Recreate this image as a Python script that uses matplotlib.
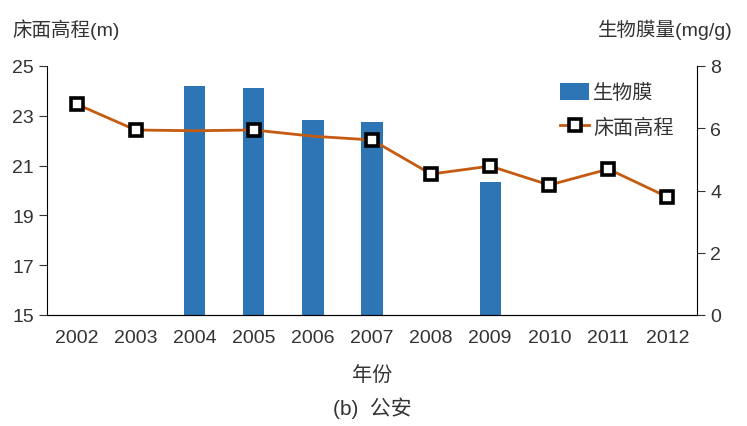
import matplotlib
matplotlib.use("Agg")
import matplotlib.pyplot as plt
from matplotlib import font_manager
import numpy as np

years = ['2002', '2003', '2004', '2005', '2006', '2007', '2008', '2009', '2010', '2011', '2012']
biofilm = [0, 0, 7.36, 7.30, 6.27, 6.20, 0, 4.28, 0, 0, 0]
bed_elev = [23.47, 22.43, 22.40, 22.43, 22.18, 22.03, 20.66, 20.98, 20.22, 20.86, 19.74]
marker_idx = [0, 1, 3, 5, 6, 7, 8, 9, 10]

installed = {f.name for f in font_manager.fontManager.ttflist}
fams = [f for f in ['Liberation Sans Narrow', 'DejaVu Sans Condensed', 'Liberation Sans'] if f in installed]
plt.rcParams['font.family'] = fams + ['Noto Sans CJK SC', 'DejaVu Sans']

fig = plt.figure(figsize=(7.47, 4.27), dpi=100)
ax = fig.add_axes([47/747, 1-316/427, 650/747, 249/427])
ax2 = ax.twinx()

x = np.arange(len(years))
ax2.bar(x, biofilm, width=0.36, color='#2E75B6', label='生物膜', zorder=1)
ax2.set_ylim(0, 8)
ax2.set_yticks([0, 2, 4, 6, 8])

ax.set_zorder(ax2.get_zorder() + 1)
ax.patch.set_visible(False)
ax.plot(x, bed_elev, color='#C55A11', lw=2, marker='s', markevery=marker_idx,
        ms=9, mfc='white', mec='black', mew=2.6, label='床面高程')
ax.set_ylim(15, 25)
ax.set_yticks([15, 17, 19, 21, 23, 25])
ax.set_xlim(-0.5, 10.5)
ax.set_xticks(x)
ax.set_xticklabels(years)

for a in (ax, ax2):
    a.spines['top'].set_visible(False)
    a.tick_params(labelsize=14, colors='#333333', length=6)
ax.tick_params(axis='x', length=0, pad=10)
ax2.spines['left'].set_visible(False)
ax.spines['right'].set_visible(False)

h1, l1 = ax2.get_legend_handles_labels()
h2, l2 = ax.get_legend_handles_labels()
ax.legend(h1 + h2, l1 + l2, loc='upper left', bbox_to_anchor=((560-47)/650, (316-84)/249),
          frameon=False, fontsize=14.5, handlelength=1.45, handleheight=0.9, handletextpad=0.2,
          borderpad=0, borderaxespad=0, labelspacing=0.75, labelcolor='#333333')

fig.text(12/747, 1-30/427, '床面高程(m)', fontsize=14, color='#333333', va='center', ha='left')
fig.text(733/747, 1-30/427, '生物膜量(mg/g)', fontsize=14, color='#333333', va='center', ha='right')
fig.text(372/747, 1-375/427, '年份', fontsize=14.5, color='#333333', va='center', ha='center')
fig.text(372/747, 1-408/427, '(b)  公安', fontsize=15, color='#333333', va='center', ha='center')

fig.savefig('out.png', dpi=100)
